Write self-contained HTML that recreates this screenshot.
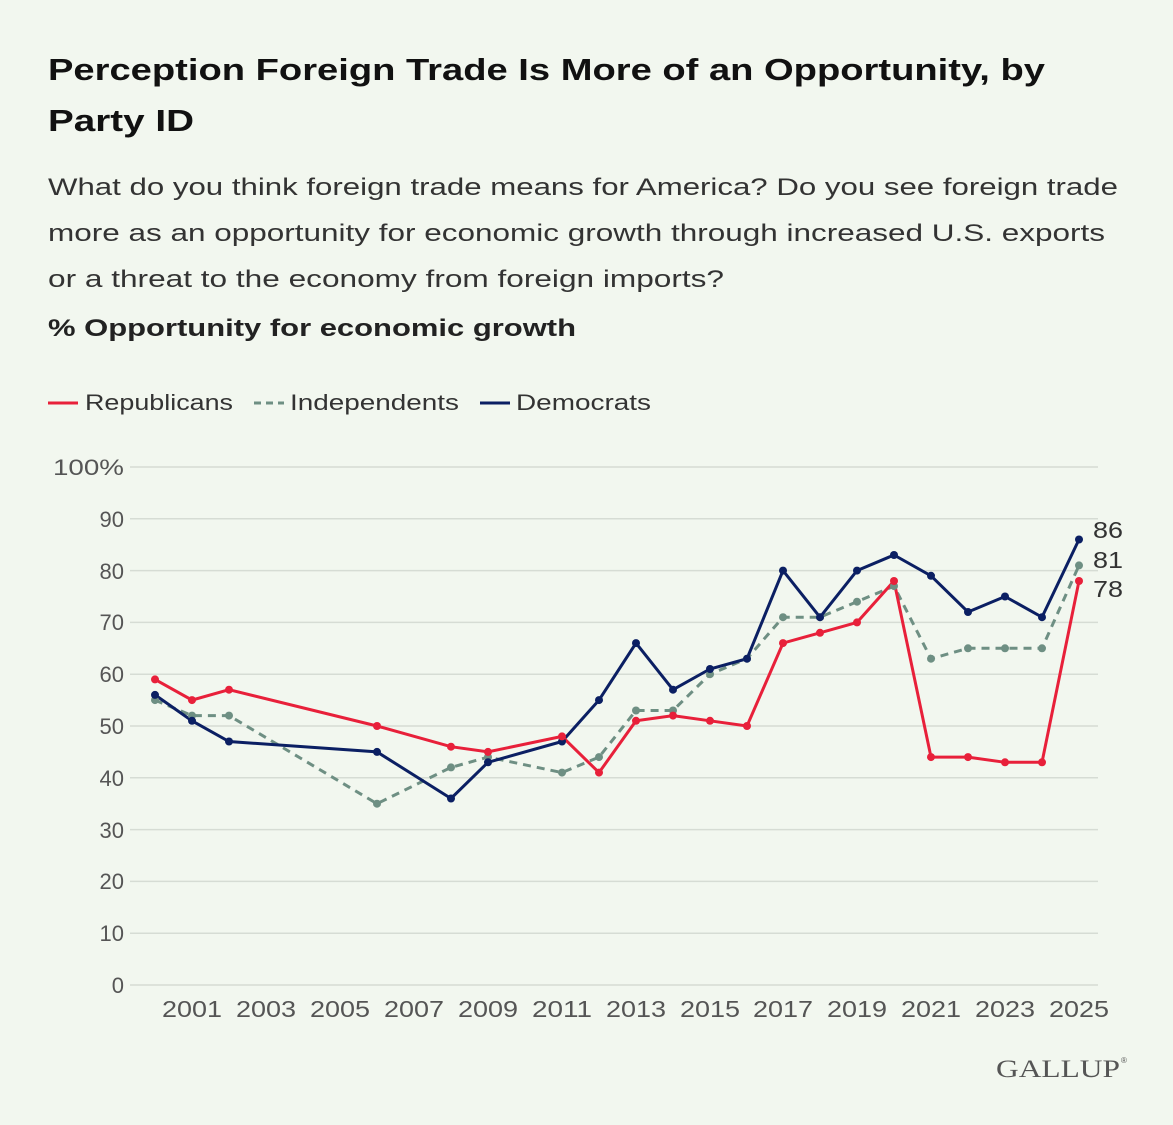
<!DOCTYPE html>
<html><head><meta charset="utf-8"><style>
body{margin:0;background:#f2f7ef;}
svg{display:block;font-family:"Liberation Sans",sans-serif;}
</style></head><body>
<svg width="1173" height="1125" viewBox="0 0 1173 1125">
<rect width="1173" height="1125" fill="#f2f7ef"/>
<text x="48" y="80" font-size="31" font-weight="bold" fill="#111" textLength="997" lengthAdjust="spacingAndGlyphs">Perception Foreign Trade Is More of an Opportunity, by</text>
<text x="48" y="131" font-size="31" font-weight="bold" fill="#111" textLength="146" lengthAdjust="spacingAndGlyphs">Party ID</text>
<g font-size="24" fill="#333">
<text x="48" y="195" textLength="1070" lengthAdjust="spacingAndGlyphs">What do you think foreign trade means for America? Do you see foreign trade</text>
<text x="48" y="241" textLength="1057" lengthAdjust="spacingAndGlyphs">more as an opportunity for economic growth through increased U.S. exports</text>
<text x="48" y="287" textLength="676" lengthAdjust="spacingAndGlyphs">or a threat to the economy from foreign imports?</text>
</g>
<text x="48" y="336" font-size="24" font-weight="bold" fill="#222" textLength="528" lengthAdjust="spacingAndGlyphs">% Opportunity for economic growth</text>
<g font-size="22" fill="#333">
<line x1="48" y1="403" x2="78" y2="403" stroke="#e8203a" stroke-width="3"/>
<text x="85" y="410" textLength="148" lengthAdjust="spacingAndGlyphs">Republicans</text>
<line x1="254" y1="403" x2="284" y2="403" stroke="#6e8f83" stroke-width="3" stroke-dasharray="7,5"/>
<text x="290" y="410" textLength="169" lengthAdjust="spacingAndGlyphs">Independents</text>
<line x1="480" y1="403" x2="510" y2="403" stroke="#0b1f63" stroke-width="3"/>
<text x="516" y="410" textLength="135" lengthAdjust="spacingAndGlyphs">Democrats</text>
</g>
<g stroke="#d6dcd4" stroke-width="1.5">
<line x1="130" y1="467" x2="1098" y2="467"/><line x1="130" y1="518.8" x2="1098" y2="518.8"/>
<line x1="130" y1="570.6" x2="1098" y2="570.6"/><line x1="130" y1="622.4" x2="1098" y2="622.4"/>
<line x1="130" y1="674.2" x2="1098" y2="674.2"/><line x1="130" y1="726" x2="1098" y2="726"/>
<line x1="130" y1="777.8" x2="1098" y2="777.8"/><line x1="130" y1="829.6" x2="1098" y2="829.6"/>
<line x1="130" y1="881.4" x2="1098" y2="881.4"/><line x1="130" y1="933.2" x2="1098" y2="933.2"/>
<line x1="130" y1="985" x2="1098" y2="985"/>
</g>
<g font-size="22" fill="#555" text-anchor="end">
<text x="124" y="475" textLength="71" lengthAdjust="spacingAndGlyphs">100%</text><text x="124" y="527">90</text><text x="124" y="579">80</text>
<text x="124" y="630">70</text><text x="124" y="682">60</text><text x="124" y="734">50</text>
<text x="124" y="786">40</text><text x="124" y="838">30</text><text x="124" y="889">20</text>
<text x="124" y="941">10</text><text x="124" y="993">0</text>
</g>
<g font-size="23" fill="#555" text-anchor="middle">
<text x="192" y="1017" textLength="60" lengthAdjust="spacingAndGlyphs">2001</text><text x="266" y="1017" textLength="60" lengthAdjust="spacingAndGlyphs">2003</text><text x="340" y="1017" textLength="60" lengthAdjust="spacingAndGlyphs">2005</text>
<text x="414" y="1017" textLength="60" lengthAdjust="spacingAndGlyphs">2007</text><text x="488" y="1017" textLength="60" lengthAdjust="spacingAndGlyphs">2009</text><text x="562" y="1017" textLength="60" lengthAdjust="spacingAndGlyphs">2011</text>
<text x="636" y="1017" textLength="60" lengthAdjust="spacingAndGlyphs">2013</text><text x="710" y="1017" textLength="60" lengthAdjust="spacingAndGlyphs">2015</text><text x="783" y="1017" textLength="60" lengthAdjust="spacingAndGlyphs">2017</text>
<text x="857" y="1017" textLength="60" lengthAdjust="spacingAndGlyphs">2019</text><text x="931" y="1017" textLength="60" lengthAdjust="spacingAndGlyphs">2021</text><text x="1005" y="1017" textLength="60" lengthAdjust="spacingAndGlyphs">2023</text>
<text x="1079" y="1017" textLength="60" lengthAdjust="spacingAndGlyphs">2025</text>
</g>
<polyline fill="none" stroke="#6e8f83" stroke-width="3" stroke-dasharray="8,6" points="155,700.1 192,715.6 229,715.6 377,803.7 451,767.4 488,757.1 562,772.6 599,757.1 636,710.5 673,710.5 710,674.2 747,658.7 783,617.2 820,617.2 857,601.7 894,586.1 931,658.7 968,648.3 1005,648.3 1042,648.3 1079,565.4"/>
<polyline fill="none" stroke="#0b1f63" stroke-width="3" points="155,694.9 192,720.8 229,741.5 377,751.9 451,798.5 488,762.3 562,741.5 599,700.1 636,643.1 673,689.7 710,669 747,658.7 783,570.6 820,617.2 857,570.6 894,555 931,575.8 968,612 1005,596.5 1042,617.2 1079,539.5"/>
<polyline fill="none" stroke="#e8203a" stroke-width="3" points="155,679.4 192,700.1 229,689.7 377,726 451,746.7 488,751.9 562,736.4 599,772.6 636,720.8 673,715.6 710,720.8 747,726 783,643.1 820,632.8 857,622.4 894,581 931,757.1 968,757.1 1005,762.3 1042,762.3 1079,581"/>
<g fill="#6e8f83">
<circle cx="155" cy="700.1" r="4"/><circle cx="192" cy="715.6" r="4"/><circle cx="229" cy="715.6" r="4"/><circle cx="377" cy="803.7" r="4"/><circle cx="451" cy="767.4" r="4"/><circle cx="488" cy="757.1" r="4"/><circle cx="562" cy="772.6" r="4"/><circle cx="599" cy="757.1" r="4"/><circle cx="636" cy="710.5" r="4"/><circle cx="673" cy="710.5" r="4"/><circle cx="710" cy="674.2" r="4"/><circle cx="747" cy="658.7" r="4"/><circle cx="783" cy="617.2" r="4"/><circle cx="820" cy="617.2" r="4"/><circle cx="857" cy="601.7" r="4"/><circle cx="894" cy="586.1" r="4"/><circle cx="931" cy="658.7" r="4"/><circle cx="968" cy="648.3" r="4"/><circle cx="1005" cy="648.3" r="4"/><circle cx="1042" cy="648.3" r="4"/><circle cx="1079" cy="565.4" r="4"/>
</g>
<g fill="#0b1f63">
<circle cx="155" cy="694.9" r="4"/><circle cx="192" cy="720.8" r="4"/><circle cx="229" cy="741.5" r="4"/><circle cx="377" cy="751.9" r="4"/><circle cx="451" cy="798.5" r="4"/><circle cx="488" cy="762.3" r="4"/><circle cx="562" cy="741.5" r="4"/><circle cx="599" cy="700.1" r="4"/><circle cx="636" cy="643.1" r="4"/><circle cx="673" cy="689.7" r="4"/><circle cx="710" cy="669" r="4"/><circle cx="747" cy="658.7" r="4"/><circle cx="783" cy="570.6" r="4"/><circle cx="820" cy="617.2" r="4"/><circle cx="857" cy="570.6" r="4"/><circle cx="894" cy="555" r="4"/><circle cx="931" cy="575.8" r="4"/><circle cx="968" cy="612" r="4"/><circle cx="1005" cy="596.5" r="4"/><circle cx="1042" cy="617.2" r="4"/><circle cx="1079" cy="539.5" r="4"/>
</g>
<g fill="#e8203a">
<circle cx="155" cy="679.4" r="4"/><circle cx="192" cy="700.1" r="4"/><circle cx="229" cy="689.7" r="4"/><circle cx="377" cy="726" r="4"/><circle cx="451" cy="746.7" r="4"/><circle cx="488" cy="751.9" r="4"/><circle cx="562" cy="736.4" r="4"/><circle cx="599" cy="772.6" r="4"/><circle cx="636" cy="720.8" r="4"/><circle cx="673" cy="715.6" r="4"/><circle cx="710" cy="720.8" r="4"/><circle cx="747" cy="726" r="4"/><circle cx="783" cy="643.1" r="4"/><circle cx="820" cy="632.8" r="4"/><circle cx="857" cy="622.4" r="4"/><circle cx="894" cy="581" r="4"/><circle cx="931" cy="757.1" r="4"/><circle cx="968" cy="757.1" r="4"/><circle cx="1005" cy="762.3" r="4"/><circle cx="1042" cy="762.3" r="4"/><circle cx="1079" cy="581" r="4"/>
</g>
<g font-size="23" fill="#333">
<text x="1093" y="538" textLength="30" lengthAdjust="spacingAndGlyphs">86</text><text x="1093" y="568" textLength="30" lengthAdjust="spacingAndGlyphs">81</text><text x="1093" y="597" textLength="30" lengthAdjust="spacingAndGlyphs">78</text>
</g>
<text x="996" y="1077" font-family="Liberation Serif,serif" font-size="25" fill="#555" textLength="124" lengthAdjust="spacingAndGlyphs">GALLUP</text>
<text x="1121" y="1063" font-size="8" fill="#555">®</text>
</svg>
</body></html>
